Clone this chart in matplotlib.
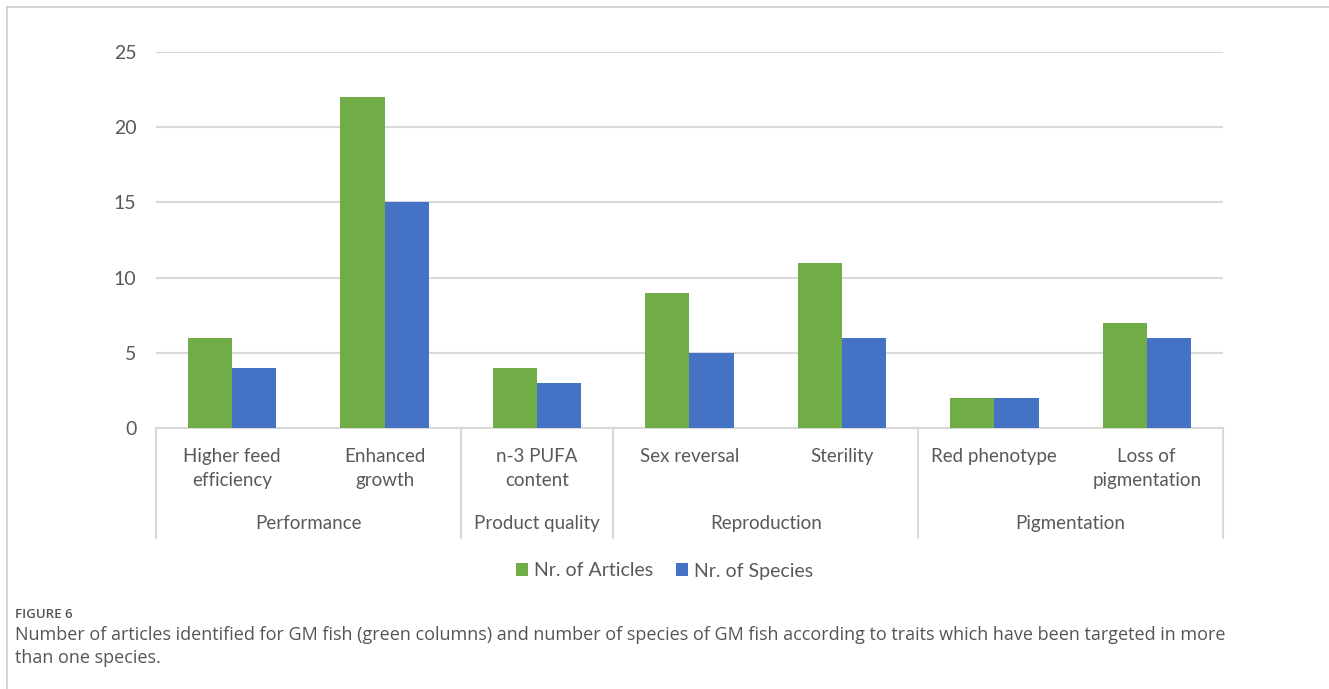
import numpy as np
import matplotlib.pyplot as plt
from matplotlib.lines import Line2D

plt.rcParams['font.family'] = ['Lato', 'DejaVu Sans']

traits = ['Higher feed\nefficiency', 'Enhanced\ngrowth', 'n-3 PUFA\ncontent',
          'Sex reversal', 'Sterility', 'Red phenotype', 'Loss of\npigmentation']
groups = ['Performance', 'Product quality', 'Reproduction', 'Pigmentation']
group_sizes = [2, 1, 2, 2]
articles = [6, 22, 4, 9, 11, 2, 7]
species = [4, 15, 3, 5, 6, 2, 6]

green = '#70AD47'
blue = '#4472C4'
grid_c = '#D9D9D9'
text_c = '#595959'

fig = plt.figure(figsize=(13.29, 6.89), dpi=100)
ax = fig.add_axes([0.1174, 0.3788, 0.8028, 0.5457])

x = np.arange(len(traits))
w = 0.29
ax.bar(x - w / 2, articles, w, color=green, label='Nr. of Articles', zorder=3)
ax.bar(x + w / 2, species, w, color=blue, label='Nr. of Species', zorder=3)

ax.set_xlim(-0.5, len(traits) - 0.5)
ax.set_ylim(0, 25)
ax.set_yticks(range(0, 26, 5))
ax.yaxis.grid(True, color=grid_c, linewidth=1.5, zorder=0)
ax.tick_params(axis='y', length=0, pad=14, labelsize=14, labelcolor=text_c)
ax.set_xticks([])
for s in ['top', 'right', 'left']:
    ax.spines[s].set_visible(False)
ax.spines['bottom'].set_color(grid_c)
ax.spines['bottom'].set_linewidth(1.5)

# two-level category axis
trans = ax.get_xaxis_transform()
sep_bottom = -0.293
for xi, lab in zip(x, traits):
    ax.text(xi, -0.052, lab, transform=trans, ha='center', va='top',
            fontsize=13.5, color=text_c, linespacing=1.5)

edges = np.concatenate([[0], np.cumsum(group_sizes)]) - 0.5
for e in edges:
    ax.add_line(Line2D([e, e], [0, sep_bottom], transform=trans, color=grid_c,
                       linewidth=1.5, clip_on=False))
for g, a, b in zip(groups, edges[:-1], edges[1:]):
    ax.text((a + b) / 2, -0.255, g, transform=trans, ha='center', va='center',
            fontsize=13.5, color=text_c)

leg = fig.legend(loc='center', bbox_to_anchor=(0.5, 1 - 571 / 689), ncol=2,
                 frameon=False, fontsize=14, handlelength=0.6, handleheight=0.6,
                 handletextpad=0.3, columnspacing=1.2, labelcolor=text_c)

# outer frame (top and left edges)
fig.add_artist(Line2D([7 / 1329, 1], [1 - 7 / 689, 1 - 7 / 689], transform=fig.transFigure,
                      color='#CCCCCC', linewidth=1.2))
fig.add_artist(Line2D([7 / 1329, 7 / 1329], [0, 1 - 7 / 689], transform=fig.transFigure,
                      color='#CCCCCC', linewidth=1.2))

cap_font = ['Liberation Sans Narrow', 'Open Sans', 'DejaVu Sans']
fig.text(15 / 1329, 1 - 614 / 689, 'FIGURE 6', fontsize=9.5, color='#555555',
         va='center', family=cap_font, fontweight='semibold')
fig.text(15 / 1329, 1 - 635 / 689,
         'Number of articles identified for GM fish (green columns) and number of species of GM fish '
         'according to traits which have been targeted in more',
         fontsize=13, color='#555555', va='center', family=cap_font)
fig.text(15 / 1329, 1 - 658 / 689, 'than one species.', fontsize=13, color='#555555',
         va='center', family=cap_font)

fig.savefig('out.png', dpi=100, facecolor='white')
